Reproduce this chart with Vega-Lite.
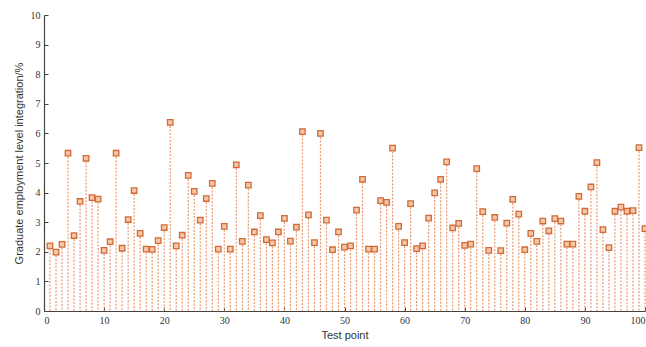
{
  "$schema": "https://vega.github.io/schema/vega-lite/v6.json",
  "width": 601,
  "height": 296,
  "autosize": {"type": "none"},
  "padding": {"left": 44, "top": 15, "right": 1, "bottom": 36},
  "background": "white",
  "config": {
    "view": {"stroke": null},
    "axis": {
      "grid": false,
      "domainColor": "#444444",
      "domainWidth": 1.2,
      "tickColor": "#444444",
      "tickSize": -4,
      "labelColor": "#333333",
      "labelFont": "Liberation Sans Narrow",
      "labelFontSize": 10,
      "titleFont": "Liberation Sans",
      "titleFontWeight": "normal",
      "titleColor": "#333333",
      "titleFontSize": 11
    }
  },
  "data": {
    "values": [
      {"x": 1, "y": 2.2}, {"x": 2, "y": 1.99}, {"x": 3, "y": 2.25}, {"x": 4, "y": 5.33}, {"x": 5, "y": 2.55},
      {"x": 6, "y": 3.7}, {"x": 7, "y": 5.16}, {"x": 8, "y": 3.83}, {"x": 9, "y": 3.78}, {"x": 10, "y": 2.05},
      {"x": 11, "y": 2.34}, {"x": 12, "y": 5.33}, {"x": 13, "y": 2.12}, {"x": 14, "y": 3.09}, {"x": 15, "y": 4.07},
      {"x": 16, "y": 2.62}, {"x": 17, "y": 2.09}, {"x": 18, "y": 2.08}, {"x": 19, "y": 2.38}, {"x": 20, "y": 2.82},
      {"x": 21, "y": 6.37}, {"x": 22, "y": 2.2}, {"x": 23, "y": 2.56}, {"x": 24, "y": 4.58}, {"x": 25, "y": 4.04},
      {"x": 26, "y": 3.07}, {"x": 27, "y": 3.8}, {"x": 28, "y": 4.31}, {"x": 29, "y": 2.09}, {"x": 30, "y": 2.86},
      {"x": 31, "y": 2.09}, {"x": 32, "y": 4.94}, {"x": 33, "y": 2.35}, {"x": 34, "y": 4.25}, {"x": 35, "y": 2.67},
      {"x": 36, "y": 3.22}, {"x": 37, "y": 2.41}, {"x": 38, "y": 2.3}, {"x": 39, "y": 2.67}, {"x": 40, "y": 3.13},
      {"x": 41, "y": 2.36}, {"x": 42, "y": 2.83}, {"x": 43, "y": 6.06}, {"x": 44, "y": 3.25}, {"x": 45, "y": 2.31},
      {"x": 46, "y": 6.0}, {"x": 47, "y": 3.07}, {"x": 48, "y": 2.07}, {"x": 49, "y": 2.67}, {"x": 50, "y": 2.16},
      {"x": 51, "y": 2.2}, {"x": 52, "y": 3.41}, {"x": 53, "y": 4.45}, {"x": 54, "y": 2.09}, {"x": 55, "y": 2.09},
      {"x": 56, "y": 3.73}, {"x": 57, "y": 3.67}, {"x": 58, "y": 5.5}, {"x": 59, "y": 2.86}, {"x": 60, "y": 2.31},
      {"x": 61, "y": 3.63}, {"x": 62, "y": 2.11}, {"x": 63, "y": 2.2}, {"x": 64, "y": 3.14}, {"x": 65, "y": 3.99},
      {"x": 66, "y": 4.45}, {"x": 67, "y": 5.04}, {"x": 68, "y": 2.81}, {"x": 69, "y": 2.96}, {"x": 70, "y": 2.22},
      {"x": 71, "y": 2.26}, {"x": 72, "y": 4.81}, {"x": 73, "y": 3.36}, {"x": 74, "y": 2.05}, {"x": 75, "y": 3.16},
      {"x": 76, "y": 2.04}, {"x": 77, "y": 2.97}, {"x": 78, "y": 3.77}, {"x": 79, "y": 3.27}, {"x": 80, "y": 2.07},
      {"x": 81, "y": 2.62}, {"x": 82, "y": 2.35}, {"x": 83, "y": 3.04}, {"x": 84, "y": 2.71}, {"x": 85, "y": 3.12},
      {"x": 86, "y": 3.04}, {"x": 87, "y": 2.26}, {"x": 88, "y": 2.26}, {"x": 89, "y": 3.87}, {"x": 90, "y": 3.37},
      {"x": 91, "y": 4.19}, {"x": 92, "y": 5.01}, {"x": 93, "y": 2.75}, {"x": 94, "y": 2.14}, {"x": 95, "y": 3.37},
      {"x": 96, "y": 3.51}, {"x": 97, "y": 3.37}, {"x": 98, "y": 3.39}, {"x": 99, "y": 5.52}, {"x": 100, "y": 2.78}
    ]
  },
  "encoding": {
    "x": {
      "field": "x", "type": "quantitative",
      "scale": {"domain": [0, 100], "nice": false},
      "axis": {"values": [0, 10, 20, 30, 40, 50, 60, 70, 80, 90, 100], "title": "Test point", "labelPadding": 8, "titlePadding": 4}
    },
    "y": {
      "field": "y", "type": "quantitative",
      "scale": {"domain": [0, 10], "nice": false},
      "axis": {"values": [0, 1, 2, 3, 4, 5, 6, 7, 8, 9, 10], "title": "Graduate employment level integration/%", "labelPadding": 8, "titlePadding": 6}
    }
  },
  "layer": [
    {
      "mark": {"type": "rule", "color": "#e99a70", "strokeWidth": 1.2, "strokeDash": [2, 1.5]},
      "encoding": {"y2": {"datum": 0}}
    },
    {
      "mark": {"type": "point", "shape": "square", "size": 30, "filled": true, "fill": "#f6c7a6", "stroke": "#d26a35", "strokeWidth": 1.3, "opacity": 1}
    }
  ]
}
